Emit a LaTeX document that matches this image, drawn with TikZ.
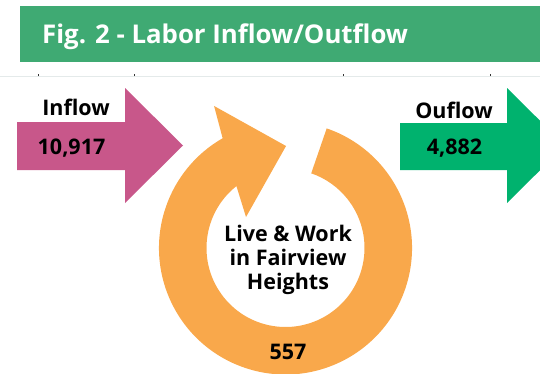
\documentclass[tikz,border=0pt]{standalone}
\usepackage{fontspec}
\setmainfont{Open Sans}
\usepackage{tikz}
\usetikzlibrary{calc}
\definecolor{lfTitle}{HTML}{3FAA73}
\definecolor{lfIn}{HTML}{C8578A}
\definecolor{lfOut}{HTML}{00B26E}
\definecolor{lfRing}{HTML}{F9A84B}
\definecolor{lfRule}{HTML}{E4EAEA}
\definecolor{lfTick}{HTML}{333333}

\begin{document}
\begin{tikzpicture}[
  x=1pt, y=1pt,
  flowarrow/.style={fill=#1, draw=none},
  caption/.style={font=\fontsize{25.8}{30}\selectfont\bfseries, text=white, inner sep=0pt},
  flowlabel/.style={font=\fontsize{21.5}{24}\selectfont\bfseries, inner sep=0pt},
  ringtext/.style={font=\fontsize{21.5}{24}\selectfont\bfseries, align=center, inner sep=0pt}
]
  \useasboundingbox (0,0) rectangle (540,373);
  \clip (0,0) rectangle (540,373);

  % Title bar
  \fill[lfTitle] (20,311) rectangle (540,367);
  \node[caption, anchor=base west] (title) at (42,329) {Fig. 2 - Labor Inflow/Outflow};

  % Rule with ticks
  \draw[lfRule, line width=0.8pt] (0,297) -- (540,297);
  \foreach \tx in {38,134,343,490}
    \draw[lfTick, line width=0.8pt] (\tx,297) -- (\tx,299);

  % Inflow arrow
  \fill[flowarrow=lfIn] (17,251) -- (125,251) -- (125,285) -- (183,227.5)
    -- (125,170) -- (125,203) -- (17,203) -- cycle;
  \node[flowlabel, anchor=base] (inlabel) at (76,258) {Inflow};
  \node[flowlabel, anchor=base] (invalue) at (71.5,219) {10,917};

  % Outflow arrow
  \fill[flowarrow=lfOut] (400,250) -- (507,250) -- (507,285) -- (565,227.5)
    -- (507,170) -- (507,203) -- (400,203) -- cycle;
  \node[flowlabel, anchor=base] (outlabel) at (454,255) {Ouflow};
  \node[flowlabel, anchor=base] (outvalue) at (454.5,219) {4,882};

  % Circular arrow
  \coordinate (ring) at (285.5,125);
  \fill[lfRing] ([shift={(ring)}]71:126.5pt)
    arc[start angle=71, end angle=-240.2, radius=126.5pt]
    -- ([shift={(ring)}]116.7:159pt)
    -- ([shift={(ring)}]89.7:102pt)
    -- ([shift={(ring)}]141.9:50.2pt)
    -- ([shift={(ring)}]128.4:79pt)
    arc[start angle=-231.6, end angle=71, radius=79pt] -- cycle;
  \node[ringtext] (stay) at (288,113) {Live \& Work\\in Fairview\\Heights};
  \node[flowlabel, anchor=base] (stayvalue) at (288,14) {557};
\end{tikzpicture}
\end{document}
